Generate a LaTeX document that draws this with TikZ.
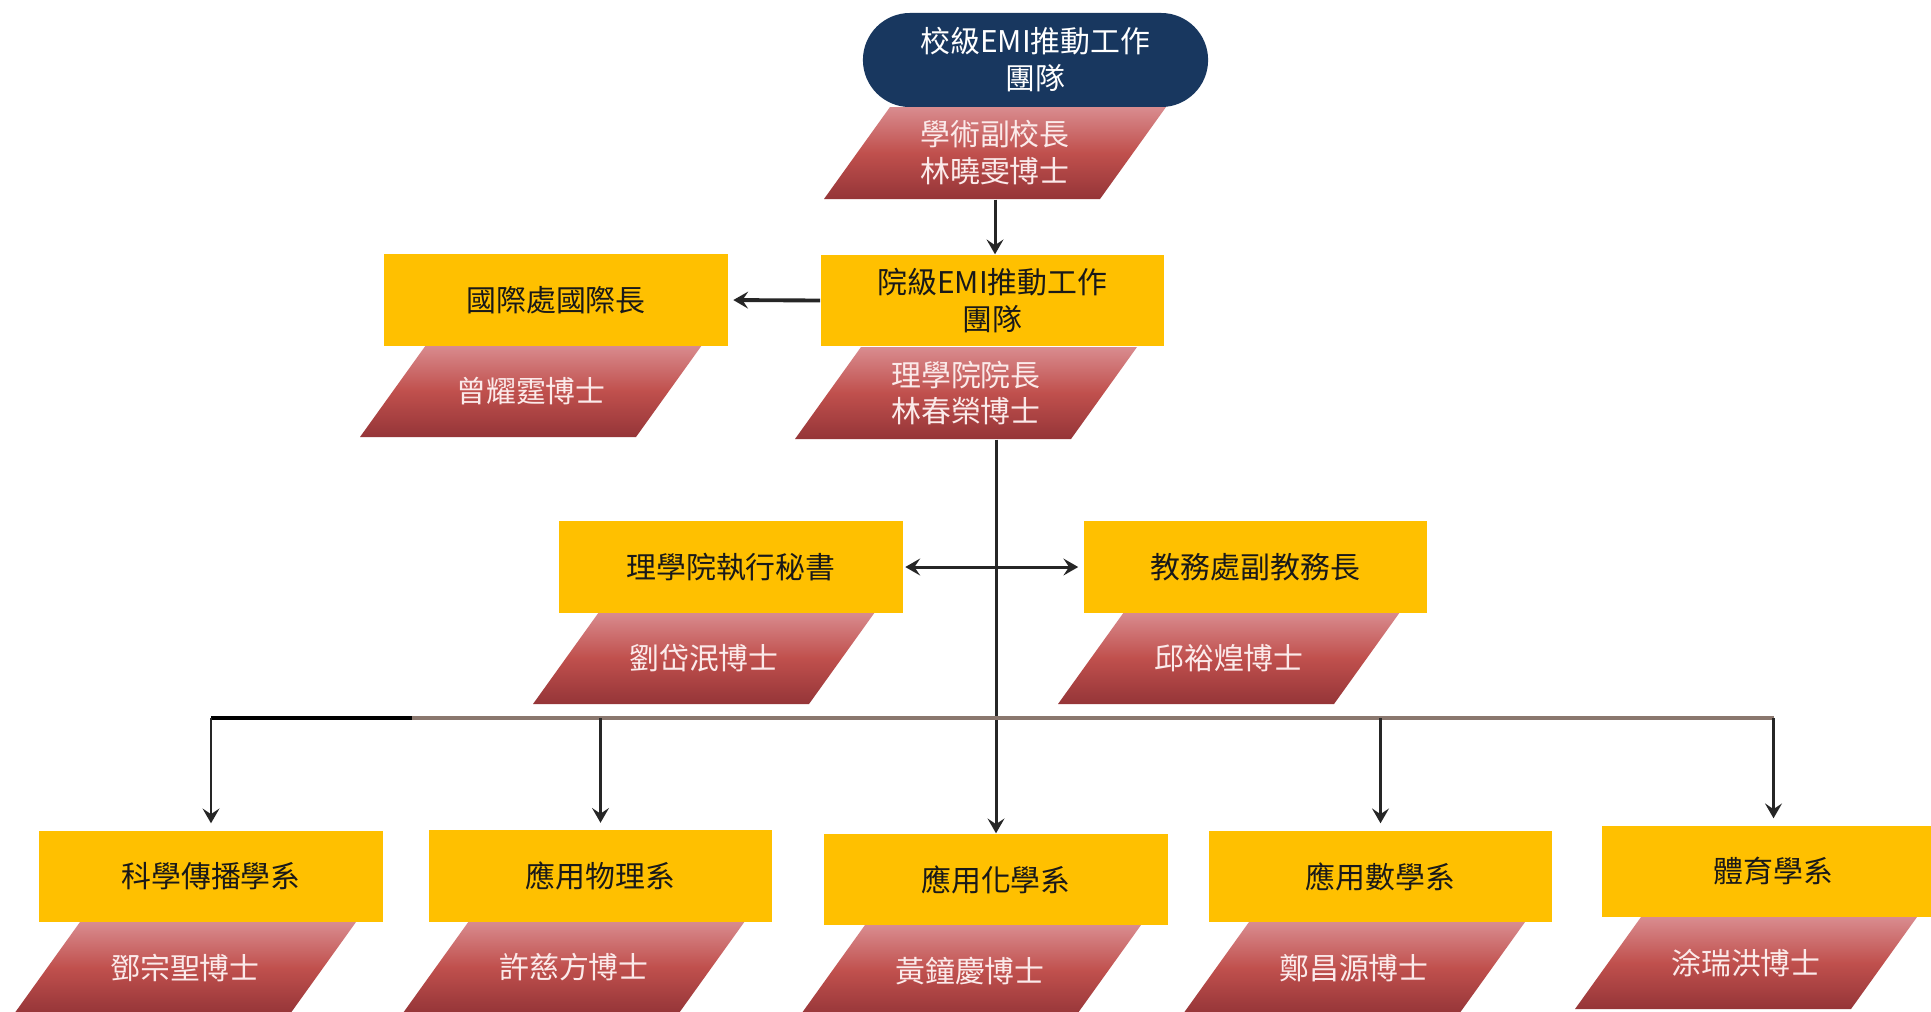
\documentclass[tikz,border=0pt]{standalone}
\usepackage{fontspec}
\newfontfamily\cjk{Noto Sans CJK TC}
\usetikzlibrary{arrows.meta,calc,shapes.misc}
\definecolor{ybg}{HTML}{FFC000}
\definecolor{navy}{HTML}{18375F}
\definecolor{pgtop}{HTML}{D98C8F}
\definecolor{pgmid}{HTML}{C0504D}
\definecolor{pgbot}{HTML}{953538}
\definecolor{busc}{HTML}{8A776E}
\definecolor{ptxt}{HTML}{FBEAEA}
\tikzset{
 lbl/.style={font=\cjk\fontsize{8.5}{10.5}\selectfont, align=center, inner sep=0pt},
 ybox/.style={lbl, fill=ybg, text=black!90, minimum width=3.43cm, minimum height=0.91cm},
 ptext/.style={lbl, text=ptxt, minimum width=2.76cm, minimum height=0.92cm},
 pgshade/.style={top color=pgtop, bottom color=pgbot, middle color=pgmid},
 tip/.tip={Stealth[length=4.2pt,width=4.8pt,inset=1.6pt]},
 arr/.style={-tip, line width=0.85pt, black!85},
 arr2/.style={tip-tip, line width=0.85pt, black!85},
}
\newcommand{\pgram}[4]{%
  \shade[pgshade] ({#2-105},{#3-46}) -- ({#2+171},{#3-46}) -- ({#2+105},{#3+46}) -- ({#2-171},{#3+46}) -- cycle;
  \node[ptext] (#1) at (#2,#3) {#4};
}
\begin{document}
\begin{tikzpicture}[x=0.01cm,y=-0.01cm]
\useasboundingbox (0,0) rectangle (1931,1011);
\clip (0,0) rectangle (1931,1011);
\fill[white] (0,0) rectangle (1931,1011);

% top level
\node[lbl, fill=navy, text=white, rounded rectangle, minimum width=3.45cm, minimum height=0.94cm] (top) at (1035.5,60) {校級EMI推動工作\\團隊};
\pgram{p0}{995}{153}{學術副校長\\林曉雯博士}

% college level
\pgram{p1}{966}{393}{理學院院長\\林春榮博士}
\node[ybox] (y1) at (992.5,300.5) {院級EMI推動工作\\團隊};
\pgram{p2}{531}{391}{曾耀霆博士}
\node[ybox] (y2) at (556,300) {國際處國際長};

% secretaries
\pgram{p3}{704}{658}{劉岱泯博士}
\node[ybox] (y3) at (731,567) {理學院執行秘書};
\pgram{p4}{1229}{658}{邱裕煌博士}
\node[ybox] (y4) at (1255.5,567) {教務處副教務長};

% departments
\pgram{q1}{185}{968}{鄧宗聖博士}
\node[ybox] (b1) at (211,876.5) {科學傳播學系};
\pgram{q2}{574}{967}{許慈方博士}
\node[ybox] (b2) at (600.5,876) {應用物理系};
\pgram{q3}{970}{971}{黃鐘慶博士}
\node[ybox] (b3) at (996,879.5) {應用化學系};
\pgram{q4}{1354}{968}{鄭昌源博士}
\node[ybox] (b4) at (1380.5,876.5) {應用數學系};
\pgram{q5}{1746}{963}{涂瑞洪博士}
\node[ybox] (b5) at (1773.5,871.5) {體育學系};

% connectors
\draw[arr] (p0.south) -- (p0.south |- y1.north);
\draw[arr, line width=1.1pt, shorten >=0.05cm] (y1.west) -- (y2.east);
\draw[arr] (p1.south -| b3.north) -- (b3.north);
\draw[arr2, shorten <=0.02cm, shorten >=0.05cm] (y3.east) -- (y4.west);

\coordinate (bus) at (995,718);
\draw[busc, line width=0.9pt] (b1.north |- bus) -- (b5.north |- bus);
\draw[black, line width=1.2pt] (b1.north |- bus) -- ++(201,0);
\draw[arr, shorten >=0.07cm] (b1.north |- bus) -- (b1.north);
\draw[arr, shorten >=0.07cm] (b2.north |- bus) -- (b2.north);
\draw[arr, shorten >=0.07cm] (b4.north |- bus) -- (b4.north);
\draw[arr, shorten >=0.07cm] (b5.north |- bus) -- (b5.north);
\end{tikzpicture}
\end{document}
